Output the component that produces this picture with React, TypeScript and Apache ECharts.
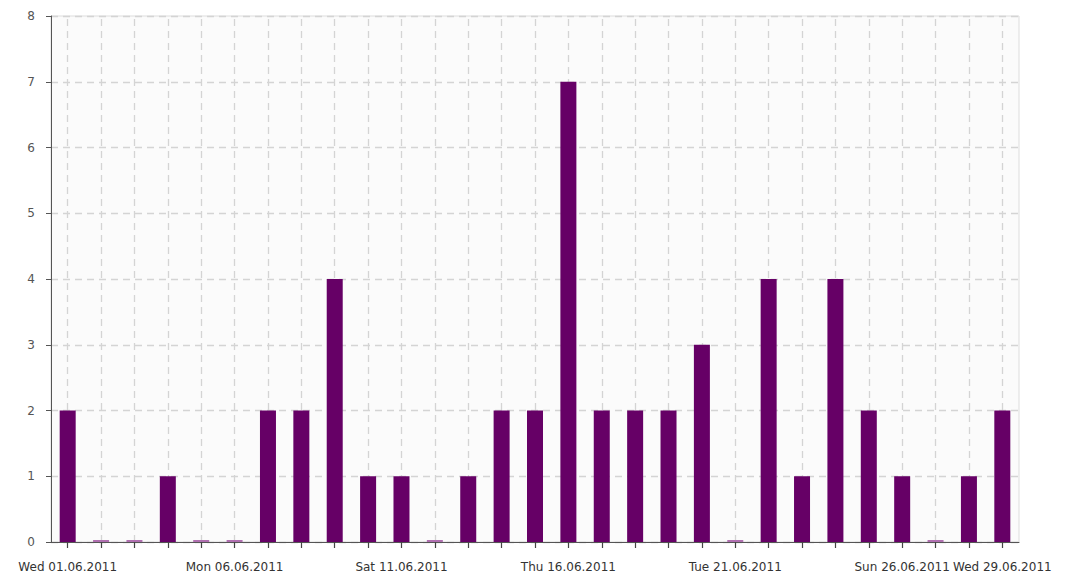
import React, { useEffect, useRef } from "react";
import * as echarts from "echarts";

const days: string[] = [
  "Wed 01.06.2011", "Thu 02.06.2011", "Fri 03.06.2011", "Sat 04.06.2011", "Sun 05.06.2011",
  "Mon 06.06.2011", "Tue 07.06.2011", "Wed 08.06.2011", "Thu 09.06.2011", "Fri 10.06.2011",
  "Sat 11.06.2011", "Sun 12.06.2011", "Mon 13.06.2011", "Tue 14.06.2011", "Wed 15.06.2011",
  "Thu 16.06.2011", "Fri 17.06.2011", "Sat 18.06.2011", "Sun 19.06.2011", "Mon 20.06.2011",
  "Tue 21.06.2011", "Wed 22.06.2011", "Thu 23.06.2011", "Fri 24.06.2011", "Sat 25.06.2011",
  "Sun 26.06.2011", "Mon 27.06.2011", "Tue 28.06.2011", "Wed 29.06.2011",
];
const counts: number[] = [2, 0, 0, 1, 0, 0, 2, 2, 4, 1, 1, 0, 1, 2, 2, 7, 2, 2, 2, 3, 0, 4, 1, 4, 2, 1, 0, 1, 2];
const labelledIndices: number[] = [0, 5, 10, 15, 20, 25, 28];

export default function App() {
  const ref = useRef<HTMLDivElement>(null);
  useEffect(() => {
    if (!ref.current) return;
    const chart = echarts.init(ref.current, null, { renderer: "svg" });
    const font = "DejaVu Sans";
    const gridLine = { color: "#d4d4d4", type: [7, 5] as any, width: 1.3 };
    chart.setOption({
      animation: false,
      backgroundColor: "#ffffff",
      grid: {
        left: 51, right: 47, top: 16, bottom: 38,
        show: true, backgroundColor: "#fbfbfb", borderColor: "#dddddd", borderWidth: 1,
      },
      xAxis: {
        type: "category",
        data: days,
        boundaryGap: true,
        z: 4,
        axisLine: { lineStyle: { color: "#555555", width: 1 } },
        axisTick: { show: true, alignWithLabel: true, interval: 0, length: 6, lineStyle: { color: "#444444", width: 1.2 } },
        axisLabel: {
          interval: (i: number) => labelledIndices.includes(i),
          color: "#333333", fontFamily: font, fontSize: 12, margin: 19,
        },
        splitLine: { show: false },
      },
      yAxis: {
        type: "value",
        min: 0, max: 8, interval: 1,
        axisLine: { show: true, lineStyle: { color: "#555555", width: 1 } },
        axisTick: { show: true, length: 5, lineStyle: { color: "#555555" } },
        axisLabel: { color: "#555555", fontFamily: font, fontSize: 12, margin: 16 },
        splitLine: { lineStyle: gridLine },
      },
      series: [
        {
          type: "line",
          z: 1,
          data: [],
          silent: true,
          markLine: {
            silent: true,
            z: 1,
            symbol: ["none", "none"],
            label: { show: false },
            lineStyle: gridLine,
            data: days.map((d) => ({ xAxis: d })),
          },
        },
        {
          type: "bar",
          z: 3,
          barWidth: 16,
          barMinHeight: 2,
          data: counts.map((v) =>
            v === 0
              ? { value: v, itemStyle: { color: "#b070b0" } }
              : { value: v, itemStyle: { color: "#660066" } }
          ),
        },
      ],
    });
    return () => chart.dispose();
  }, []);
  return (
    <div
      ref={ref}
      style={{ position: "fixed", left: 0, top: 0, width: 1066, height: 580 }}
    />
  );
}
